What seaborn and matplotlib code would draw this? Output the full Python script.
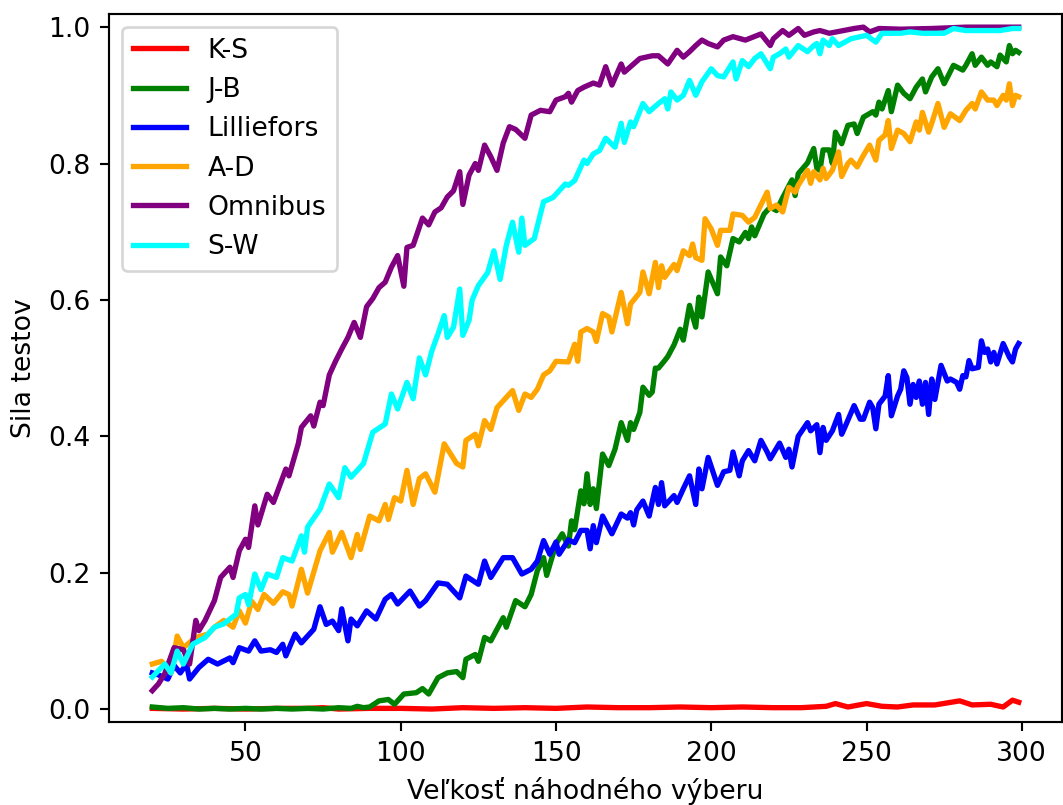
import matplotlib
matplotlib.use("Agg")
import matplotlib.pyplot as plt
import pandas as pd
import seaborn as sns

# Power of normality tests as a function of sample size
tests = ["K-S", "J-B", "Lilliefors", "A-D", "Omnibus", "S-W"]
colors = ["red", "green", "blue", "orange", "purple", "cyan"]

ks_n = [20, 30, 40, 50, 60, 70, 75, 80, 90, 100, 110, 120, 130, 140, 150, 160, 170, 180,
        190, 200, 210, 220, 229, 237, 240, 244, 250, 255, 260, 265, 272, 280, 284, 290,
        294, 297, 299]
ks_power = [0.001, 0.000, 0.001, 0.000, 0.001, 0.001, 0.002, 0.000, 0.001, 0.001, 0.000,
            0.002, 0.001, 0.002, 0.001, 0.003, 0.002, 0.002, 0.003, 0.002, 0.003, 0.002,
            0.002, 0.004, 0.008, 0.003, 0.008, 0.004, 0.003, 0.006, 0.006, 0.012, 0.006,
            0.007, 0.003, 0.013, 0.010]

jb_n = [20, 25, 30, 35, 40, 45, 50, 55, 60, 65, 70, 75, 80, 84, 86, 88, 90, 93, 96, 98,
        101, 105, 107, 109, 112, 115, 118, 120, 121, 124, 125, 127, 129, 133, 134, 137,
        140, 142, 144, 146, 147, 150, 152, 154, 155, 156, 158, 159, 160, 161, 162, 163,
        165, 167, 169, 171, 173, 174, 175, 177, 178, 180, 181, 182, 183, 185, 186, 188,
        190, 191, 193, 195, 196, 197, 199, 202, 203, 205, 207, 209, 211, 212, 213, 214,
        217, 219, 221, 223, 226, 227, 228, 231, 233, 234, 235, 236, 238, 239, 240, 242,
        244, 246, 247, 249, 252, 253, 254, 255, 257, 258, 260, 262, 264, 266, 268, 269,
        271, 273, 275, 278, 281, 282, 284, 285, 287, 289, 290, 292, 293, 295, 296, 297,
        298, 299]
jb_power = [0.003, 0.001, 0.002, 0.000, 0.001, 0.000, 0.001, 0.000, 0.001, 0.000, 0.001,
            0.000, 0.002, 0.001, 0.004, 0.002, 0.003, 0.012, 0.014, 0.007, 0.022, 0.024,
            0.030, 0.022, 0.046, 0.053, 0.055, 0.046, 0.073, 0.080, 0.070, 0.105, 0.100,
            0.134, 0.120, 0.159, 0.150, 0.168, 0.203, 0.222, 0.196, 0.242, 0.257, 0.239,
            0.276, 0.263, 0.320, 0.301, 0.345, 0.300, 0.323, 0.294, 0.374, 0.357, 0.381,
            0.420, 0.394, 0.420, 0.410, 0.435, 0.472, 0.460, 0.465, 0.500, 0.500, 0.511,
            0.517, 0.534, 0.557, 0.541, 0.592, 0.560, 0.604, 0.575, 0.641, 0.609, 0.663,
            0.650, 0.690, 0.685, 0.699, 0.690, 0.707, 0.694, 0.726, 0.736, 0.731, 0.750,
            0.776, 0.753, 0.785, 0.801, 0.822, 0.793, 0.790, 0.820, 0.820, 0.800, 0.846,
            0.829, 0.856, 0.858, 0.844, 0.868, 0.876, 0.871, 0.890, 0.880, 0.907, 0.876,
            0.915, 0.903, 0.895, 0.912, 0.924, 0.905, 0.927, 0.939, 0.917, 0.944, 0.937,
            0.944, 0.961, 0.944, 0.956, 0.944, 0.949, 0.942, 0.959, 0.949, 0.973, 0.961,
            0.966, 0.963]

lil_n = [20, 22, 25, 27, 29, 31, 32, 35, 38, 41, 45, 46, 48, 51, 53, 55, 58, 60, 62, 63,
         66, 68, 72, 74, 76, 78, 80, 81, 83, 84, 86, 89, 92, 95, 97, 99, 103, 106, 108,
         112, 115, 119, 121, 125, 127, 129, 133, 136, 139, 142, 144, 146, 148, 150, 151,
         154, 156, 158, 160, 161, 162, 163, 165, 168, 171, 173, 174, 175, 176, 178, 180,
         182, 183, 184, 185, 188, 189, 191, 193, 195, 196, 197, 199, 202, 204, 206, 207,
         209, 210, 212, 214, 216, 218, 219, 222, 224, 225, 226, 228, 231, 232, 234, 235,
         236, 237, 239, 241, 242, 243, 246, 248, 249, 251, 252, 253, 254, 256, 257, 258,
         260, 261, 262, 263, 264, 265, 266, 267, 268, 269, 270, 271, 272, 274, 276, 277,
         279, 280, 281, 282, 283, 284, 286, 287, 288, 289, 290, 291, 292, 294, 296, 297,
         298, 299]
lil_power = [0.053, 0.050, 0.044, 0.064, 0.053, 0.066, 0.044, 0.061, 0.073, 0.066, 0.075,
             0.068, 0.090, 0.085, 0.100, 0.085, 0.087, 0.083, 0.095, 0.078, 0.110, 0.097,
             0.117, 0.150, 0.124, 0.129, 0.115, 0.147, 0.100, 0.132, 0.122, 0.144, 0.132,
             0.161, 0.168, 0.154, 0.173, 0.151, 0.159, 0.185, 0.183, 0.163, 0.195, 0.183,
             0.217, 0.193, 0.222, 0.222, 0.198, 0.205, 0.217, 0.247, 0.227, 0.245, 0.227,
             0.248, 0.244, 0.262, 0.262, 0.235, 0.269, 0.244, 0.283, 0.257, 0.286, 0.280,
             0.288, 0.270, 0.292, 0.305, 0.283, 0.325, 0.300, 0.332, 0.298, 0.313, 0.303,
             0.323, 0.342, 0.300, 0.352, 0.323, 0.369, 0.328, 0.348, 0.350, 0.377, 0.342,
             0.364, 0.379, 0.364, 0.394, 0.377, 0.367, 0.390, 0.369, 0.381, 0.355, 0.400,
             0.420, 0.408, 0.417, 0.376, 0.413, 0.394, 0.408, 0.432, 0.403, 0.413, 0.445,
             0.425, 0.425, 0.450, 0.442, 0.411, 0.447, 0.459, 0.489, 0.430, 0.459, 0.469,
             0.496, 0.486, 0.447, 0.476, 0.457, 0.481, 0.447, 0.479, 0.432, 0.484, 0.454,
             0.504, 0.481, 0.484, 0.479, 0.469, 0.489, 0.487, 0.511, 0.499, 0.501, 0.540,
             0.523, 0.528, 0.509, 0.523, 0.506, 0.536, 0.516, 0.509, 0.528, 0.536]

ad_n = [20, 23, 26, 28, 30, 34, 38, 40, 43, 46, 48, 50, 52, 54, 56, 59, 62, 64, 65, 68,
        70, 74, 77, 78, 81, 84, 86, 87, 90, 93, 95, 96, 98, 100, 102, 104, 106, 108, 111,
        114, 118, 120, 121, 124, 125, 127, 129, 131, 133, 136, 138, 140, 142, 144, 146,
        148, 150, 154, 156, 157, 158, 160, 162, 163, 165, 167, 168, 171, 173, 174, 177,
        178, 180, 182, 183, 184, 185, 188, 189, 191, 193, 194, 195, 197, 198, 200, 202,
        203, 206, 207, 210, 212, 214, 218, 219, 221, 223, 225, 227, 228, 231, 232, 233,
        235, 236, 237, 239, 241, 242, 244, 245, 247, 249, 251, 253, 254, 256, 257, 258,
        260, 262, 264, 266, 267, 268, 270, 271, 273, 275, 277, 280, 282, 284, 285, 287,
        289, 291, 292, 294, 295, 296, 297, 298, 299]
ad_power = [0.066, 0.070, 0.053, 0.107, 0.090, 0.105, 0.110, 0.120, 0.130, 0.120, 0.144,
            0.126, 0.158, 0.146, 0.168, 0.155, 0.172, 0.168, 0.151, 0.205, 0.170, 0.232,
            0.259, 0.230, 0.259, 0.222, 0.256, 0.234, 0.283, 0.276, 0.300, 0.278, 0.310,
            0.305, 0.350, 0.300, 0.338, 0.345, 0.318, 0.389, 0.360, 0.355, 0.394, 0.403,
            0.386, 0.423, 0.410, 0.442, 0.452, 0.467, 0.438, 0.462, 0.457, 0.469, 0.490,
            0.496, 0.510, 0.509, 0.535, 0.510, 0.553, 0.558, 0.553, 0.539, 0.580, 0.575,
            0.553, 0.611, 0.565, 0.594, 0.611, 0.641, 0.609, 0.655, 0.618, 0.650, 0.633,
            0.652, 0.643, 0.672, 0.665, 0.682, 0.662, 0.658, 0.719, 0.704, 0.680, 0.702,
            0.702, 0.726, 0.724, 0.714, 0.721, 0.758, 0.734, 0.739, 0.729, 0.765, 0.758,
            0.768, 0.790, 0.771, 0.788, 0.776, 0.793, 0.778, 0.790, 0.817, 0.781, 0.800,
            0.805, 0.795, 0.812, 0.827, 0.805, 0.834, 0.842, 0.863, 0.822, 0.849, 0.844,
            0.832, 0.861, 0.849, 0.875, 0.846, 0.859, 0.888, 0.853, 0.873, 0.863, 0.878,
            0.888, 0.880, 0.905, 0.893, 0.893, 0.885, 0.900, 0.893, 0.917, 0.885, 0.900,
            0.898]

omni_n = [20, 22, 24, 27, 30, 32, 34, 35, 37, 40, 42, 45, 46, 48, 50, 51, 53, 54, 57, 59,
          63, 64, 67, 68, 71, 72, 74, 75, 77, 79, 81, 83, 85, 87, 89, 91, 93, 95, 97, 99,
          101, 102, 104, 107, 109, 111, 113, 115, 117, 119, 120, 122, 124, 125, 127, 129,
          131, 133, 135, 137, 140, 142, 145, 148, 150, 153, 154, 155, 157, 159, 162, 164,
          166, 168, 171, 172, 177, 181, 183, 186, 189, 191, 193, 195, 197, 199, 202, 204,
          207, 211, 216, 219, 220, 223, 225, 228, 230, 233, 235, 238, 246, 249, 251, 254,
          261, 271, 282, 295, 299]
omni_power = [0.027, 0.037, 0.052, 0.090, 0.087, 0.066, 0.130, 0.115, 0.130, 0.159, 0.193,
              0.208, 0.193, 0.232, 0.249, 0.237, 0.298, 0.270, 0.315, 0.303, 0.352, 0.342,
              0.389, 0.413, 0.430, 0.415, 0.450, 0.445, 0.490, 0.510, 0.528, 0.545, 0.567,
              0.545, 0.590, 0.602, 0.618, 0.626, 0.648, 0.665, 0.620, 0.677, 0.680, 0.720,
              0.710, 0.729, 0.735, 0.751, 0.760, 0.788, 0.740, 0.783, 0.800, 0.790, 0.827,
              0.810, 0.790, 0.830, 0.854, 0.850, 0.837, 0.871, 0.878, 0.876, 0.893, 0.898,
              0.903, 0.890, 0.907, 0.912, 0.918, 0.915, 0.942, 0.915, 0.946, 0.934, 0.954,
              0.958, 0.958, 0.946, 0.966, 0.956, 0.964, 0.973, 0.981, 0.976, 0.971, 0.981,
              0.986, 0.981, 0.990, 0.973, 0.983, 0.995, 0.988, 0.998, 0.988, 0.993, 0.995,
              0.991, 0.998, 1.000, 0.993, 0.998, 0.997, 0.998, 1.000, 1.000, 1.000]

sw_n = [20, 24, 26, 28, 30, 33, 35, 37, 40, 43, 47, 48, 50, 51, 53, 55, 57, 60, 62, 65,
        68, 69, 70, 74, 77, 80, 82, 84, 88, 91, 95, 97, 99, 102, 104, 106, 108, 110, 112,
        114, 115, 117, 119, 120, 122, 123, 125, 128, 130, 132, 134, 136, 138, 139, 140,
        143, 146, 149, 151, 153, 154, 156, 159, 160, 162, 164, 166, 169, 171, 172, 174,
        175, 178, 180, 183, 185, 186, 187, 189, 191, 193, 195, 197, 200, 202, 204, 207,
        208, 210, 212, 214, 216, 219, 220, 222, 224, 225, 228, 231, 233, 234, 235, 236,
        238, 239, 241, 245, 247, 250, 253, 255, 261, 264, 268, 275, 278, 282, 289, 293,
        297, 299]
sw_power = [0.047, 0.066, 0.053, 0.085, 0.066, 0.095, 0.100, 0.105, 0.120, 0.125, 0.139,
            0.163, 0.168, 0.153, 0.198, 0.175, 0.198, 0.193, 0.222, 0.217, 0.254, 0.230,
            0.267, 0.293, 0.330, 0.310, 0.354, 0.340, 0.360, 0.406, 0.418, 0.462, 0.440,
            0.479, 0.455, 0.515, 0.490, 0.525, 0.550, 0.577, 0.545, 0.560, 0.616, 0.548,
            0.570, 0.600, 0.621, 0.640, 0.672, 0.630, 0.680, 0.714, 0.670, 0.720, 0.680,
            0.690, 0.744, 0.750, 0.760, 0.770, 0.768, 0.775, 0.805, 0.800, 0.814, 0.819,
            0.837, 0.824, 0.859, 0.831, 0.861, 0.854, 0.888, 0.876, 0.888, 0.895, 0.880,
            0.905, 0.893, 0.900, 0.922, 0.900, 0.920, 0.939, 0.929, 0.927, 0.949, 0.924,
            0.951, 0.942, 0.954, 0.961, 0.939, 0.956, 0.961, 0.968, 0.956, 0.973, 0.964,
            0.973, 0.976, 0.961, 0.981, 0.973, 0.983, 0.973, 0.983, 0.985, 0.988, 0.978,
            0.991, 0.991, 0.993, 0.991, 0.991, 0.998, 0.995, 0.995, 0.995, 0.998, 0.998]

series = {
    "K-S": (ks_n, ks_power),
    "J-B": (jb_n, jb_power),
    "Lilliefors": (lil_n, lil_power),
    "A-D": (ad_n, ad_power),
    "Omnibus": (omni_n, omni_power),
    "S-W": (sw_n, sw_power),
}

df = pd.concat(
    [pd.DataFrame({"n": xs, "power": ys, "test": name}) for name, (xs, ys) in series.items()],
    ignore_index=True,
)

W, H, DPI = 1063, 805, 192
fig = plt.figure(figsize=(W / DPI, H / DPI), dpi=DPI)
ax = fig.add_axes([109 / W, 83 / H, 953 / W, 708.5 / H])

sns.lineplot(
    data=df, x="n", y="power", hue="test", hue_order=tests,
    palette=dict(zip(tests, colors)), linewidth=2, errorbar=None, ax=ax,
)

ax.set_ylim(-0.019, 1.02)
ax.set_xticks([50, 100, 150, 200, 250, 300])
ax.set_xlabel("Veľkosť náhodného výberu")
ax.set_ylabel("Sila testov")
sns.move_legend(ax, "upper left", title=None)

fig.savefig("out.png", dpi=DPI)
